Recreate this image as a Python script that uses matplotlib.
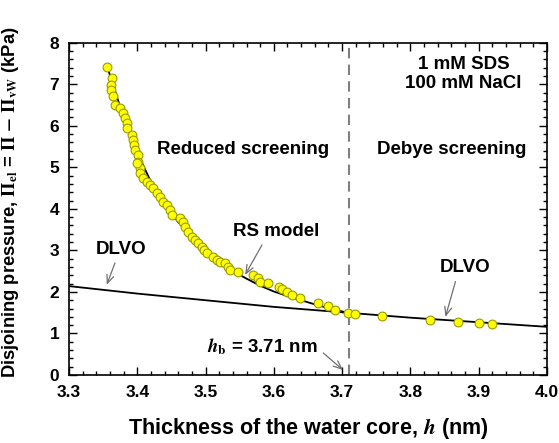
import matplotlib
matplotlib.use("Agg")
import matplotlib.pyplot as plt
from matplotlib.ticker import MultipleLocator

plt.rcParams["font.family"] = ["Liberation Sans", "DejaVu Sans"]
plt.rcParams["font.weight"] = "bold"
plt.rcParams["mathtext.fontset"] = "stix"

# Measured disjoining pressure (kPa) vs thickness of the water core h (nm)
h_data = [3.356, 3.363, 3.362, 3.361, 3.365, 3.367, 3.375, 3.379, 3.382, 3.385,
          3.385, 3.392, 3.394, 3.395, 3.397, 3.401, 3.401, 3.404, 3.400, 3.404,
          3.409, 3.414, 3.419, 3.423, 3.429, 3.433, 3.438, 3.444, 3.448, 3.451,
          3.463, 3.467, 3.470, 3.475, 3.480, 3.485, 3.489, 3.495, 3.497, 3.502,
          3.511, 3.517, 3.521, 3.529, 3.533, 3.536, 3.548, 3.570, 3.577, 3.580,
          3.592, 3.607, 3.612, 3.620, 3.627, 3.639, 3.665, 3.680, 3.690, 3.708,
          3.719, 3.759, 3.829, 3.870, 3.900, 3.920]
p_data = [7.42, 7.15, 6.99, 6.87, 6.71, 6.51, 6.43, 6.31, 6.19, 6.07,
          5.95, 5.78, 5.66, 5.54, 5.42, 5.30, 5.13, 4.99, 5.11, 4.87,
          4.75, 4.65, 4.58, 4.51, 4.39, 4.29, 4.17, 4.10, 3.98, 3.86,
          3.78, 3.69, 3.57, 3.45, 3.33, 3.25, 3.18, 3.08, 3.01, 2.94,
          2.84, 2.77, 2.72, 2.70, 2.60, 2.53, 2.48, 2.41, 2.34, 2.24,
          2.22, 2.12, 2.07, 2.00, 1.93, 1.86, 1.73, 1.66, 1.57, 1.49,
          1.47, 1.42, 1.33, 1.28, 1.25, 1.23]

# RS model curve
h_rs = [3.356, 3.38, 3.40, 3.42, 3.44, 3.46, 3.48, 3.50, 3.52, 3.54,
        3.56, 3.58, 3.60, 3.62, 3.64, 3.66, 3.68, 3.71]
p_rs = [7.42, 6.20, 5.35, 4.65, 4.10, 3.68, 3.33, 3.03, 2.75, 2.50,
        2.32, 2.15, 2.01, 1.90, 1.80, 1.70, 1.61, 1.49]

# DLVO curve
h_dlvo = [3.30, 3.40, 3.50, 3.60, 3.70, 3.80, 3.90, 4.00]
p_dlvo = [2.14, 1.96, 1.80, 1.64, 1.51, 1.38, 1.27, 1.16]

h_b = 3.71

fig = plt.figure(figsize=(5.59, 4.43), dpi=100)
ax = fig.add_axes([0.1234, 0.1535, 0.8551, 0.7501])

ax.plot(h_dlvo, p_dlvo, color="black", lw=1.3, zorder=2)
ax.plot(h_rs, p_rs, color="black", lw=1.3, zorder=2)
ax.axvline(h_b, color="#808080", lw=1.5, ls=(0, (5, 3)), zorder=1)
ax.scatter(h_data, p_data, s=40, facecolor="#ffff00", edgecolor="#9a9a00",
           linewidth=0.8, zorder=3)

ax.set_xlim(3.3, 4.0)
ax.set_ylim(0, 8)
ax.xaxis.set_major_locator(MultipleLocator(0.1))
ax.xaxis.set_minor_locator(MultipleLocator(0.02))
ax.yaxis.set_major_locator(MultipleLocator(1))
ax.yaxis.set_minor_locator(MultipleLocator(0.2))
ax.set_xticklabels([f"{v:.1f}" for v in ax.get_xticks()])
ax.tick_params(which="both", direction="in", top=True, right=True,
               labelsize=12.5, width=1, pad=7)
ax.tick_params(which="major", length=6)
ax.tick_params(which="minor", length=3)
for s in ax.spines.values():
    s.set_linewidth(1.2)

ax.set_xlabel("Thickness of the water core, $h$ (nm)", fontsize=15.5,
              fontweight="bold", labelpad=12)
ax.set_ylabel(r"Disjoining pressure, $\Pi_{\mathsf{el}}$ = $\Pi$ $-$ $\Pi_{\mathsf{vW}}$ (kPa)",
              fontsize=13.2, fontweight="bold")
ax.yaxis.set_label_coords(-0.100, 0.52)

ax.text(3.555, 5.42, "Reduced screening", ha="center", va="center", fontsize=13.5)
ax.text(3.860, 5.42, "Debye screening", ha="center", va="center", fontsize=13.5)
ax.text(3.878, 7.25, "1 mM SDS\n100 mM NaCl", ha="center", va="center",
        fontsize=13.5, linespacing=1.15)

ax.text(3.6035, 3.45, "RS model", ha="center", va="center", fontsize=13.5)
ax.text(3.3758, 3.01, "DLVO", ha="center", va="center", fontsize=13.5)
ax.text(3.8806, 2.59, "DLVO", ha="center", va="center", fontsize=13.5)
ax.text(3.584, 0.68, "$\\mathit{h}_{\\mathsf{b}}$ = 3.71 nm", ha="center",
        va="center", fontsize=13.5)

arrow = dict(arrowstyle="->,head_length=0.6,head_width=0.25",
             color="#707070", lw=0.9, shrinkA=0, shrinkB=0)
ax.annotate("", xy=(3.558, 2.41), xytext=(3.5826, 3.13), arrowprops=arrow)
ax.annotate("", xy=(3.3553, 2.17), xytext=(3.3674, 2.70), arrowprops=arrow)
ax.annotate("", xy=(3.8513, 1.40), xytext=(3.866, 2.25), arrowprops=arrow)
ax.annotate("", xy=(3.7013, 0.12), xytext=(3.6724, 0.53), arrowprops=arrow)

fig.savefig("out.png", dpi=100)
